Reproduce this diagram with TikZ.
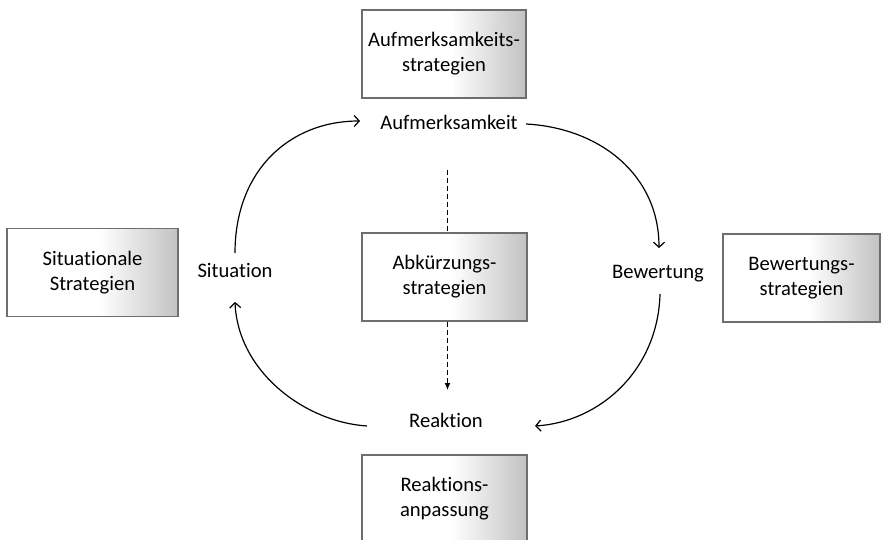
\documentclass[tikz,border=0pt]{standalone}
\usepackage{fontspec}
\setmainfont{Carlito}[Ligatures={NoCommon}]
\usetikzlibrary{arrows.meta}
\definecolor{boxgray}{HTML}{6E6E6E}
\definecolor{shadegray}{HTML}{C2C2C2}
\pgfdeclarehorizontalshading{boxshade}{100bp}{color(0bp)=(white); color(25bp)=(white); color(52bp)=(white); color(75bp)=(shadegray); color(100bp)=(shadegray)}
\newcommand\labfont{\fontsize{20.7}{25}\selectfont}
\begin{document}
\begin{tikzpicture}[x=1bp,y=-1bp,
  box/.style={draw=boxgray, line width=1.6bp, shading=boxshade,
    minimum height=88bp, align=center, inner sep=0pt, font=\labfont},
  lbl/.style={inner sep=0pt, font=\labfont},
  flow/.style={line width=1.2bp, -{Straight Barb[length=5bp,width=11bp]}},
  dashline/.style={line width=1.2bp, dash pattern=on 5bp off 3bp}
]
\useasboundingbox (0,0) rectangle (886,540);

% boxes
\node[box, minimum width=164bp] (tA) at (444,54) {Aufmerksamkeits-\\strategien};
\node[box, minimum width=171bp] (tS) at (92.5,272.5) {Situationale\\Strategien};
\node[box, minimum width=165bp] (tK) at (444.5,277) {Abkürzungs-\\strategien};
\node[box, minimum width=157bp] (tB) at (801.5,278) {Bewertungs-\\strategien};
\node[box, minimum width=165bp] (tR) at (444.5,499) {Reaktions-\\anpassung};

% labels
\node[lbl] (aufm) at (449,122) {Aufmerksamkeit};
\node[lbl] (sit) at (235,270.5) {Situation};
\node[lbl] (bew) at (658,273.5) {Bewertung};
\node[lbl] (reak) at (446,420) {Reaktion};

% cycle arrows
\draw[flow] ([shift={(0,-17.5)}]sit.center) .. controls (235,170) and (290,121) .. ([shift={(-89,-1)}]aufm.center);
\draw[flow] ([shift={(77,2)}]aufm.center) .. controls (600,128) and (659,175) .. ([shift={(1,-25.5)}]bew.center);
\draw[flow] ([shift={(2,20.5)}]bew.center) .. controls (658,370) and (600,422) .. ([shift={(89,6)}]reak.center);
\draw[flow] ([shift={(-79,6)}]reak.center) .. controls (305,422) and (238,372) .. ([shift={(0,31.5)}]sit.center);

% dashed line through the middle box
\coordinate (dtop) at (447.5,170);
\coordinate (dend) at (447.5,390);
\draw[dashline] (dtop) -- (dtop |- tK.north);
\draw[dashline, -{Latex[length=7bp,width=6bp]}] (tK.south -| dtop) -- (dend);
\end{tikzpicture}
\end{document}
